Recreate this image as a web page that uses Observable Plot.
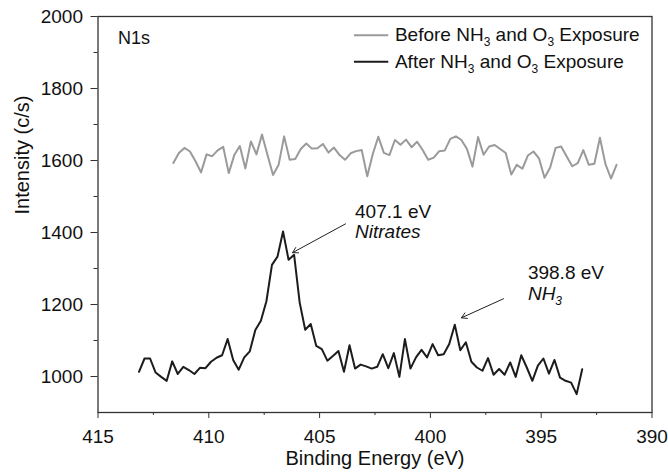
<!DOCTYPE html>
<html>
<head>
<meta charset="utf-8">
<script src="https://cdn.jsdelivr.net/npm/d3@7"></script>
<script src="https://cdn.jsdelivr.net/npm/@observablehq/plot@0.6"></script>
<style>
  body { margin: 0; background: #fff; }
  #chart svg { font-family: "Liberation Sans", Arial, sans-serif; background: #fff; }
</style>
</head>
<body>
<div id="chart"></div>
<script>
// ---- data ----
const beforeStart = 411.6;   // eV of first "before" point
const afterStart = 413.15;   // eV of first "after" point
const stepEV = 0.25;         // instrument step (eV)

const beforeValues = [1593,1621,1635,1625,1598,1567,1617,1612,1628,1638,1565,1615,1640,1578,1653,1617,1672,1615,1560,1588,1667,1602,1604,1632,1647,1633,1634,1646,1622,1636,1615,1602,1620,1626,1629,1556,1618,1666,
  1621,1615,1657,1644,1658,1637,1652,1629,1602,1608,1626,1628,1660,1667,1657,1632,1583,1665,1616,1639,1643,1632,1621,1561,1588,1577,1614,1625,1606,1552,1580,1635,1639,1611,1584,1593,1629,1588,1591,1663,1590,1550,1588];

const afterValues = [1013,1050,1050,1011,999,988,1042,1007,1027,1018,1007,1024,1023,1041,1052,1059,1104,1046,1019,1053,1070,1129,1155,1209,1310,1333,1403,1324,1338,1206,1130,1146,1085,1076,1044,
  1057,1071,1013,1087,1022,1033,1028,1022,1027,1062,1023,1065,999,1104,1022,1053,1074,1053,1090,1059,1062,1090,1144,1073,1095,1041,1025,1016,1051,1005,1021,1005,1039,999,1059,1025,988,1030,1050,1008,1046,997,988,983,951,1020];

const xTicks = [415, 410, 405, 400, 395, 390];
const xMinorTicks = [412.5, 407.5, 402.5, 397.5, 392.5];
const yTicks = [1000, 1200, 1400, 1600, 1800, 2000];
const yMinorTicks = [1100, 1300, 1500, 1700, 1900];

const seriesNames = ["Before NH_3 and O_3 Exposure", "After NH_3 and O_3 Exposure"];
const seriesColors = ["#9a9a9a", "#1c1c1c"];

// legend placement (data units)
const legendLineX = [403.45, 401.9];
const legendTextX = 401.6;
const legendRowY = [1948, 1874];

// annotations (data units)
const panelLabel = [{x: 414.1, y: 1940, text: "N1s"}];
const peakLabels = [
  {x: 403.4, y: 1458, text: "407.1 eV", italic: false},
  {x: 403.4, y: 1403, text: "Nitrates", italic: true},
  {x: 395.6, y: 1288, text: "398.8 eV", italic: false},
  {x: 395.6, y: 1230, text: "NH_3", italic: true}
];
const peakArrows = [
  {x1: 403.83, y1: 1424, x2: 406.22, y2: 1344},
  {x1: 396.7, y1: 1216, x2: 398.6, y2: 1163}
];

// ---- build tables ----
const beforeData = beforeValues.map((v, i) => ({ev: beforeStart - i * stepEV, v}));
const afterData = afterValues.map((v, i) => ({ev: afterStart - i * stepEV, v}));
const legendRows = seriesNames.map((name, i) => ({name, color: seriesColors[i], y: legendRowY[i], x1: legendLineX[0], x2: legendLineX[1], tx: legendTextX}));

const axisColor = "#333";
const FS = 19;

const chart = Plot.plot({
  width: 668,
  height: 476,
  marginLeft: 97.5,
  marginRight: 16.5,
  marginTop: 16,
  marginBottom: 64,
  style: {fontFamily: "'Liberation Sans', Arial, sans-serif", background: "#fff"},
  x: {domain: [415, 390], axis: null},
  y: {domain: [900, 2000], axis: null},
  marks: [
    Plot.frame({stroke: axisColor, strokeWidth: 1.3}),
    Plot.axisX(xTicks, {anchor: "bottom", tickSize: 6, tickPadding: 11, fontSize: FS, stroke: axisColor, fill: "#111", label: null, tickFormat: d3.format("d")}),
    Plot.axisX(xMinorTicks, {anchor: "bottom", tickSize: 3, tickFormat: () => "", stroke: axisColor, label: null}),
    Plot.axisY(yTicks, {anchor: "left", tickSize: 7, tickPadding: 8, fontSize: FS, stroke: axisColor, fill: "#111", label: null, tickFormat: d3.format("d")}),
    Plot.axisY(yMinorTicks, {anchor: "left", tickSize: 4, tickFormat: () => "", stroke: axisColor, label: null}),
    Plot.text(["Binding Energy (eV)"], {frameAnchor: "bottom", dy: 52, fontSize: 20, fill: "#111"}),
    Plot.text(["Intensity (c/s)"], {frameAnchor: "left", dx: -75, rotate: -90, fontSize: 20, fill: "#111"}),
    Plot.line(beforeData, {x: "ev", y: "v", stroke: seriesColors[0], strokeWidth: 2}),
    Plot.line(afterData, {x: "ev", y: "v", stroke: seriesColors[1], strokeWidth: 2}),
    Plot.link(legendRows, {x1: "x1", x2: "x2", y1: "y", y2: "y", stroke: "color", strokeWidth: 2}),
    Plot.text(legendRows, {x: "tx", y: "y", text: "name", textAnchor: "start", fontSize: 19, fill: "#111"}),
    Plot.text(panelLabel, {x: "x", y: "y", text: "text", textAnchor: "start", fontSize: 18, fill: "#111"}),
    Plot.text(peakLabels.filter(d => !d.italic), {x: "x", y: "y", text: "text", textAnchor: "start", fontSize: 19, fill: "#111"}),
    Plot.text(peakLabels.filter(d => d.italic), {x: "x", y: "y", text: "text", textAnchor: "start", fontSize: 19, fontStyle: "italic", fill: "#111"}),
    Plot.arrow(peakArrows, {x1: "x1", y1: "y1", x2: "x2", y2: "y2", stroke: "#222", strokeWidth: 1, headLength: 9})
  ]
});

// subscripts: "_3" -> lowered small "3"
d3.select(chart).selectAll("text").each(function() {
  const s = this.textContent;
  if (!s.includes("_")) return;
  const parts = s.split(/_(\d)/);
  const sel = d3.select(this);
  sel.text(null);
  parts.forEach((p, i) => {
    if (!p) return;
    const ts = sel.append("tspan").text(p);
    if (i % 2 === 1) ts.attr("dy", 5).attr("font-size", "12px");
    else if (i > 0) ts.attr("dy", -5);
  });
});

document.getElementById("chart").appendChild(chart);
</script>
</body>
</html>
